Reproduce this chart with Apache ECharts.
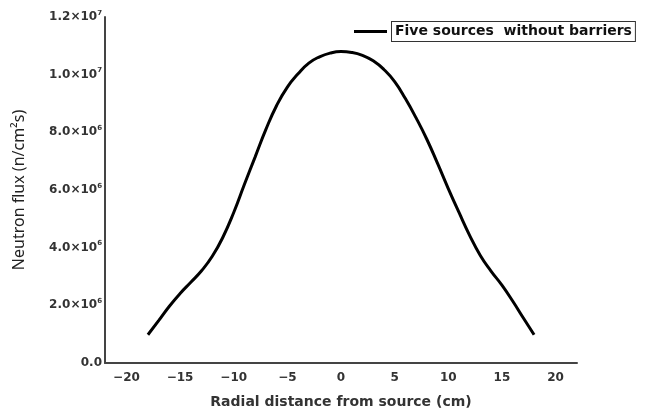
<!DOCTYPE html>
<html>
<head>
<meta charset="utf-8">
<script src="https://cdn.jsdelivr.net/npm/echarts@6/dist/echarts.min.js"></script>
<style>html,body{margin:0;padding:0;background:#fff}#c{width:646px;height:414px}</style>
</head>
<body>
<div id="c"></div>
<script>
var seriesName = 'Five sources  without barriers';
var xValues = [-18, -17, -16, -15, -14, -13, -12, -11, -10, -9, -8, -7, -6, -5, -4, -3, -2, -1, 0, 1, 2, 3, 4, 5, 6, 7, 8, 9, 10, 11, 12, 13, 14, 15, 16, 17, 18];
var fluxValues = [0.98e6, 1.47e6, 1.97e6, 2.41e6, 2.8e6, 3.2e6, 3.7e6, 4.37e6, 5.22e6, 6.2e6, 7.15e6, 8.1e6, 8.93e6, 9.57e6, 10.03e6, 10.4e6, 10.62e6, 10.75e6, 10.8e6, 10.77e6, 10.67e6, 10.48e6, 10.18e6, 9.76e6, 9.17e6, 8.5e6, 7.76e6, 6.92e6, 6.05e6, 5.22e6, 4.42e6, 3.72e6, 3.18e6, 2.7e6, 2.15e6, 1.56e6, 0.98e6];
var xTicks = [-20, -15, -10, -5, 0, 5, 10, 15, 20];

var data = xValues.map(function (x, i) { return [x, fluxValues[i]]; });
var chart = echarts.init(document.getElementById('c'), null, {renderer: 'canvas'});
function yFmt(v) {
  if (v === 0) return '0.0';
  var e = Math.floor(Math.log10(v) + 1e-9);
  var m = v / Math.pow(10, e);
  return m.toFixed(1) + '×10{sup|' + e + '}';
}
var F = 'DejaVu Sans, Verdana, sans-serif';
chart.setOption({
  animation: false,
  backgroundColor: '#fff',
  grid: {left: 105, top: 17, right: 69, bottom: 45, containLabel: false},
  legend: {
    data: [seriesName],
    left: 354, top: 21, padding: 0,
    itemWidth: 33, itemHeight: 3, itemGap: 0,
    icon: 'rect',
    textStyle: {
      fontFamily: F, fontWeight: 'bold', fontSize: 14, color: '#111',
      borderColor: '#333', borderWidth: 1, padding: [3, 3, 2, 3], backgroundColor: '#fff'
    }
  },
  xAxis: {
    type: 'value', min: -22, max: 22,
    splitLine: {show: false},
    axisLine: {show: true, onZero: false, lineStyle: {color: '#444', width: 2}},
    axisTick: {show: false},
    axisLabel: {
      customValues: xTicks,
      formatter: function (v) { return v < 0 ? '\u2212' + Math.abs(v) : String(v); },
      fontFamily: F, fontWeight: 'bold', fontSize: 12, color: '#333', margin: 9
    },
    name: 'Radial distance from source (cm)',
    nameLocation: 'middle', nameGap: 32,
    nameTextStyle: {fontFamily: F, fontSize: 14, fontWeight: 'bold', color: '#333'}
  },
  yAxis: {
    type: 'value', min: 0, max: 1.2e7, interval: 2e6,
    splitLine: {show: false},
    axisLine: {show: true, onZero: false, lineStyle: {color: '#444', width: 2}},
    axisTick: {show: false},
    axisLabel: {
      formatter: yFmt, margin: 3,
      fontFamily: F, fontSize: 12, fontWeight: 'bold', color: '#333',
      rich: {sup: {fontSize: 7, fontWeight: 'bold', color: '#333', verticalAlign: 'top', padding: [0, 0, 8, 0], fontFamily: F}}
    },
    name: 'Neutron flux (n/cm\u00B2s)',
    nameLocation: 'middle', nameGap: 78, nameRotate: 90,
    nameTextStyle: {fontFamily: 'Noto Sans, Open Sans, sans-serif', fontSize: 16, color: '#222'}
  },
  series: [{
    name: seriesName, type: 'line', data: data, smooth: 0.5,
    showSymbol: false, symbol: 'none',
    lineStyle: {color: '#000', width: 3},
    itemStyle: {color: '#000'}
  }]
});
</script>
</body>
</html>
